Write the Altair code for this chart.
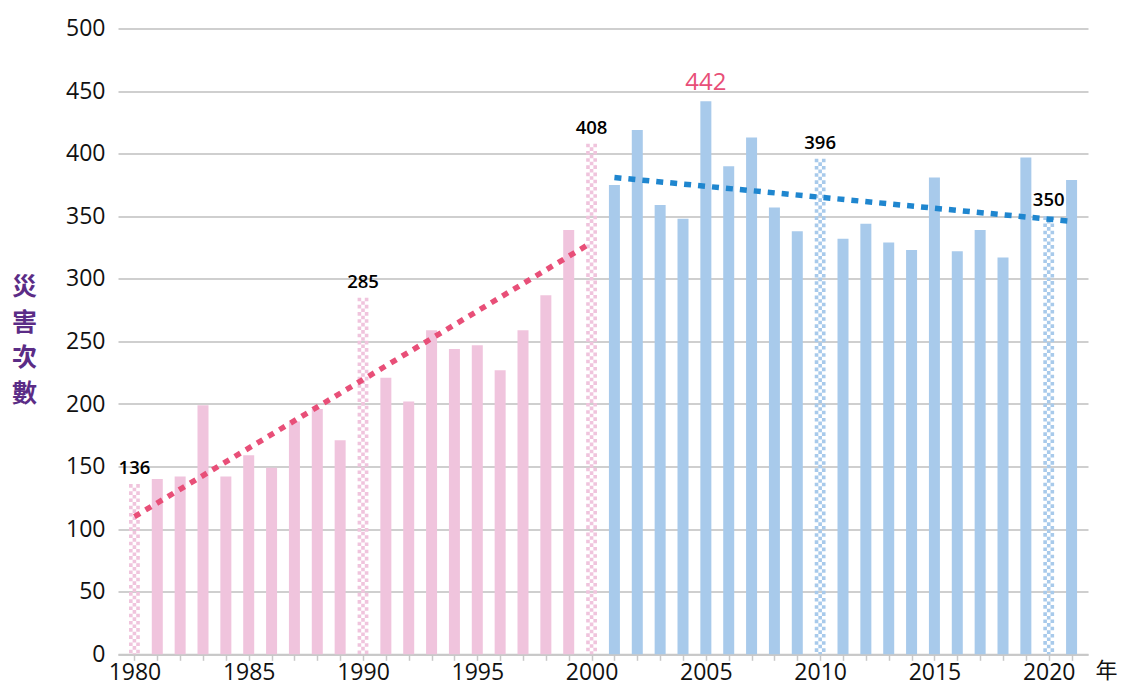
import altair as alt
import pandas as pd

years_a = list(range(1980, 2001))
counts_a = [136, 140, 142, 199, 142, 159, 149, 186, 196, 171, 285,
            221, 202, 259, 244, 247, 227, 259, 287, 339, 408]
years_b = list(range(2001, 2022))
counts_b = [375, 419, 359, 348, 442, 390, 413, 357, 338, 396, 332,
            344, 329, 323, 381, 322, 339, 317, 397, 350, 379]
periods = ["1980-2000", "2001-2021"]
checker_years = [1980, 1990, 2000, 2010, 2020]
label_years = [1980, 1990, 2000, 2010, 2020]
peak_year = 2005
y_ticks = list(range(0, 501, 50))
x_label_years = list(range(1980, 2021, 5))
x_tick_years = list(range(1980, 2022))
# trend lines (start/end)
trend_years_a = [1980, 2000]
trend_vals_a = [110, 329]
trend_years_b = [2001, 2021]
trend_vals_b = [381, 346]

PINK = "#F0C4DD"
BLUE = "#A8CAEB"
RED_TREND = "#E84F78"
BLUE_TREND = "#1F86CF"

df = pd.DataFrame({
    "year": years_a + years_b,
    "value": counts_a + counts_b,
    "period": [periods[0]] * len(years_a) + [periods[1]] * len(years_b),
})
df["checker"] = df["year"].isin(checker_years)
df["label"] = df["year"].isin(label_years)
df["peak"] = df["year"] == peak_year
df["dx"] = [5 if y == 1980 else 0 for y in df["year"]]

trend_df = pd.DataFrame({
    "year": trend_years_a + trend_years_b,
    "value": trend_vals_a + trend_vals_b,
    "period": [periods[0]] * 2 + [periods[1]] * 2,
})

xscale = alt.Scale(domain=[1979.5, 2021.5], nice=False, zero=False)
yscale = alt.Scale(domain=[0, 500], nice=False)
cscale = alt.Scale(domain=periods, range=[PINK, BLUE])

x_ticks_axis = alt.Axis(
    values=x_tick_years, labels=False, grid=False, orient="bottom",
    domainColor="#c8c8c8", domainWidth=2,
    tickColor="#c8c8c8", tickWidth=1.5, tickSize=6,
    title="年", titleAngle=0, titleX=988, titleY=23,
    titleAlign="center", titleBaseline="alphabetic",
    titleFont="Noto Sans CJK TC", titleFontSize=22,
    titleFontWeight="normal", titleColor="#111",
)
x_label_axis = alt.Axis(
    values=x_label_years, format="d", grid=False, orient="bottom",
    domain=False, ticks=False, tickSize=0, labelPadding=25.5,
    labelBaseline="alphabetic",
    labelFont="Open Sans", labelFontSize=23, labelColor="#111",
    labelFlush=False, labelOverlap=False, title=None,
)
y_axis = alt.Axis(
    values=y_ticks, grid=True, gridColor="#cfcfcf", gridWidth=2,
    domain=False, ticks=False, tickSize=0, labelPadding=13,
    labelFont="Open Sans", labelFontSize=23, labelColor="#111",
    title=["災", "害", "次", "數"], titleAngle=0, titleX=-94,
    titleY=258, titleAlign="center", titleBaseline="middle",
    titleLineHeight=35.5, titleFont="Noto Sans CJK TC",
    titleFontSize=25, titleFontWeight="bold", titleColor="#5B2C86",
)

color_enc = alt.Color("period:N", scale=cscale, legend=None)
x_plain = alt.X("year:Q", scale=xscale, axis=None)
y_plain = alt.Y("value:Q", scale=yscale)

base = alt.Chart(df)

bars = base.transform_filter("!datum.checker").mark_bar(size=11).encode(
    x=alt.X("year:Q", scale=xscale, axis=x_ticks_axis),
    y=alt.Y("value:Q", scale=yscale, axis=y_axis),
    color=color_enc,
)

checker_layers = []
for off, dash_off in [(-3.6, 0), (0, 3.6), (3.6, 0)]:
    checker_layers.append(
        base.transform_filter("datum.checker").mark_rule(
            strokeWidth=3.6, strokeDash=[3.6, 3.6],
            strokeDashOffset=dash_off, xOffset=off,
        ).encode(x=x_plain, y=y_plain, y2=alt.datum(0), color=color_enc)
    )

trend_base = alt.Chart(trend_df)
trend_a = trend_base.transform_filter(
    alt.datum.period == periods[0]
).mark_line(
    color=RED_TREND, strokeWidth=5.5, strokeDash=[6.5, 6.5]
).encode(
    x=alt.X("year:Q", scale=xscale, axis=x_label_axis), y=y_plain
)
trend_b = trend_base.transform_filter(
    alt.datum.period == periods[1]
).mark_line(
    color=BLUE_TREND, strokeWidth=5.5, strokeDash=[7, 7]
).encode(x=x_plain, y=y_plain)

labels = base.transform_filter("datum.label").mark_text(
    dy=-10, baseline="alphabetic", fontSize=18.5, font="Open Sans",
    fontWeight=600, color="#000",
).encode(
    x=x_plain, y=y_plain, text=alt.Text("value:Q"),
    xOffset=alt.XOffset("dx:Q", scale=None),
)

peak = base.transform_filter("datum.peak").mark_text(
    dy=-11, baseline="alphabetic", fontSize=24, font="Open Sans",
    color=RED_TREND,
).encode(x=x_plain, y=y_plain, text=alt.Text("value:Q"))

chart = alt.layer(
    bars, *checker_layers, trend_a, trend_b, labels, peak
).resolve_axis(x="independent").properties(
    width=970, height=625.7,
    autosize=alt.AutoSizeParams(type="none"),
    padding={"left": 110, "top": 20.6, "right": 30, "bottom": 26.7},
).configure_view(stroke=None)

chart.save("out.html", embed_options={"renderer": "svg", "actions": False})
